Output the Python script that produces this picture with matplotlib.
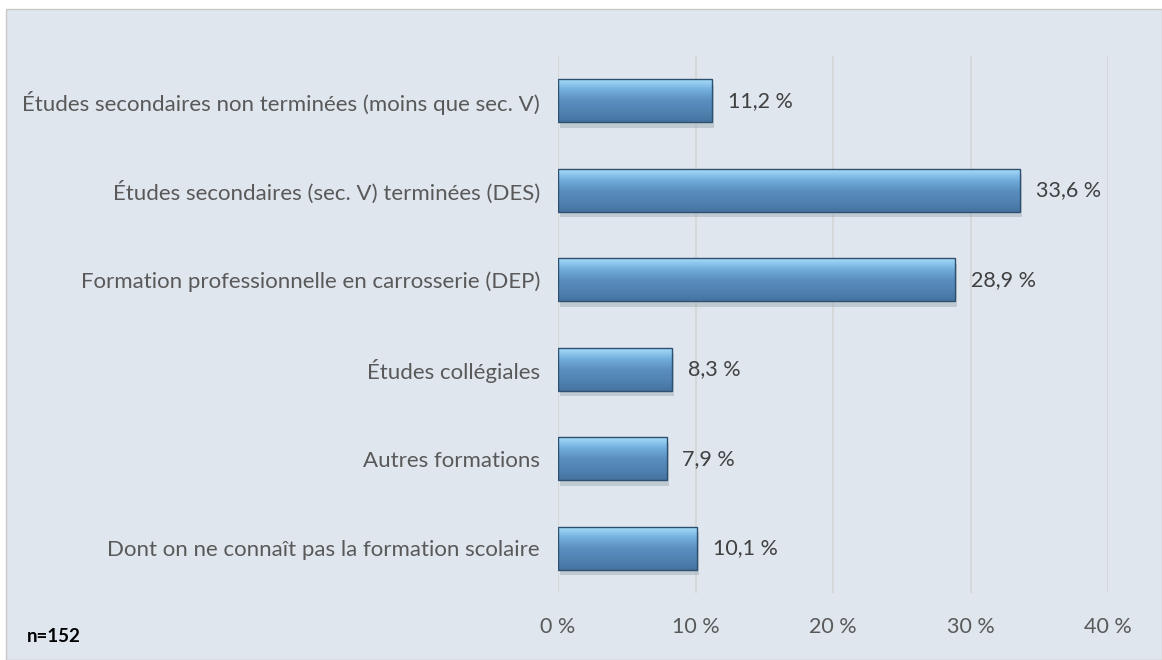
import matplotlib
matplotlib.use('Agg')
import matplotlib.pyplot as plt
import numpy as np
from matplotlib.colors import LinearSegmentedColormap

plt.rcParams['font.family'] = ['Lato', 'DejaVu Sans']

# donnees
categories = ['Études secondaires non terminées (moins que sec. V)',
              'Études secondaires (sec. V) terminées (DES)',
              'Formation professionnelle en carrosserie (DEP)',
              'Études collégiales',
              'Autres formations',
              'Dont on ne connaît pas la formation scolaire']
valeurs = [11.2, 33.6, 28.9, 8.3, 7.9, 10.1]
ticks = [0, 10, 20, 30, 40]
tick_labels = ['0 %', '10 %', '20 %', '30 %', '40 %']
note = 'n=152'

bg = '#dfe6ee'
fs = 15.5
fig = plt.figure(figsize=(11.62, 6.6), dpi=100)
fig.patch.set_facecolor('white')
# cadre du graphique
fig.patches.append(plt.Rectangle((6/1162, 0), 1 - 6/1162, 1 - 9/660, transform=fig.transFigure,
                                 facecolor=bg, edgecolor='#c8c8c8', lw=1.0, zorder=-10))

ax = fig.add_axes([558/1162, 67/660, 550/1162, 537/660])
ax.set_zorder(5)
ax.set_facecolor('none')
ax.set_xlim(0, 40)
ax.set_ylim(5.5, -0.5)

# degrade vertical des barres
cmap = LinearSegmentedColormap.from_list('barre', ['#a6dcfa', '#72aedc', '#5a8fbf', '#5284b3', '#44739f'])
grad = np.linspace(0, 1, 64).reshape(-1, 1)
h = 0.48
for i, v in enumerate(valeurs):
    # ombre
    ax.add_patch(plt.Rectangle((0.15, i - h/2 + 0.06), v, h, facecolor='#9aa6b2', alpha=0.45,
                               edgecolor='none', zorder=2))
    ax.imshow(grad, cmap=cmap, aspect='auto', extent=(0, v, i + h/2, i - h/2), zorder=3,
              interpolation='bilinear')
    ax.add_patch(plt.Rectangle((0, i - h/2), v, h, facecolor='none', edgecolor='#2f4f6f',
                               lw=1.0, zorder=4))
    ax.text(v + 1.15, i, f'{v:.1f} %'.replace('.', ','), va='center', ha='left',
            fontsize=fs, color='#404040')

ax.set_xlim(0, 40)
ax.set_ylim(5.5, -0.5)
ax.set_xticks(ticks)
ax.set_xticklabels(tick_labels, fontsize=fs, color='#595959')
ax.set_yticks(range(len(categories)))
ax.set_yticklabels(categories, fontsize=16, color='#595959')
ax.tick_params(length=0)
ax.tick_params(axis='x', pad=17)
ax.tick_params(axis='y', pad=13)
ax.grid(axis='x', color='#d4d4d4', lw=1.2, zorder=1)
ax.set_axisbelow(True)
for s in ax.spines.values():
    s.set_visible(False)

fig.text(27/1162, 1 - 637/660, note, fontsize=13.5, fontweight='bold', color='black', va='center')

fig.savefig('out.png', dpi=100, facecolor='white')
